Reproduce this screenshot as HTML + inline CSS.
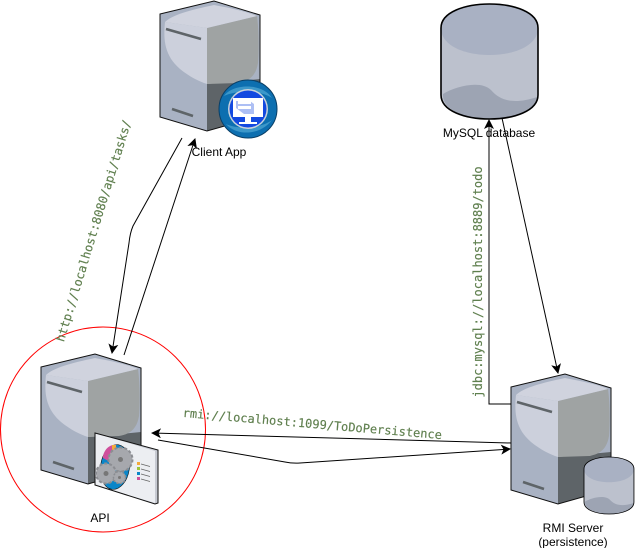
<!DOCTYPE html>
<html>
<head>
<meta charset="utf-8">
<style>
html,body{margin:0;padding:0;background:#fff;width:635px;height:548px;overflow:hidden}
svg{display:block}
.l{font-family:"Liberation Sans",Arial,sans-serif;font-size:12px;fill:#000;text-anchor:middle}
.m{font-family:"DejaVu Sans Mono",monospace;font-size:12px;fill:#5f7f4e;stroke:#5f7f4e;stroke-width:.15;text-anchor:middle}
</style>
</head>
<body>
<svg width="635" height="548" viewBox="0 0 635 548" xmlns="http://www.w3.org/2000/svg">
<defs>
<g id="srv">
<path d="M0,13 L54,0 L100,14 V115 L47,130 L0,116 Z" fill="#a9b2c3"/>
<path d="M47,83 L100,78 V115 L47,130 Z" fill="#5e6468"/>
<path d="M47,27 L97,15 C99,30 99,50 98,62 C96,74 90,80 78,82 L47,83 Z" fill="#9fa3a3"/>
<path d="M5,21 C3,40 5,55 20,68 C30,76 38,80 47,83 V27 Z" fill="#ccd0dc"/>
<path d="M5,21 C12,14 30,9 54,4 C70,7 85,10 97,15 L47,27 Z" fill="#d0d3de"/>
<path d="M0,13 L54,0 L100,14 V115 L47,130 L0,116 Z" fill="none" stroke="#111" stroke-width="1"/>
<path d="M6,28 L41,38" stroke="#5e6468" stroke-width="2.6" fill="none"/>
<path d="M12,108 L33,115" stroke="#5e6468" stroke-width="2.6" fill="none"/>
</g>
<g id="cyl">
<path d="M0,24 C0,-8 97,-8 97,24 V91 C97,123 0,123 0,91 Z" fill="#bcc1cd"/>
<path d="M0,24 C0,-8 97,-8 97,24 C97,60 0,60 0,24 Z" fill="#a9b1c3"/>
<path d="M2,90 C15,82 40,76 50,86 C60,98 75,100 96,93 C97,123 0,123 2,90 Z" fill="#9da4b3"/>
<path d="M0,24 C0,-8 97,-8 97,24 V91 C97,123 0,123 0,91 Z" fill="none" stroke="#000" stroke-width="1.6"/>
</g>
<marker id="a" markerWidth="12" markerHeight="12" refX="9" refY="5" orient="auto" markerUnits="userSpaceOnUse">
<path d="M0,0 L10,5 L0,10 L2.500,5 Z" fill="#000"/>
</marker>
</defs>

<!-- servers -->
<use href="#srv" x="160" y="1"/>
<use href="#srv" x="41" y="354"/>
<use href="#srv" x="511" y="374"/>

<!-- cylinders -->
<use href="#cyl" x="441" y="4"/>
<g transform="translate(584,457) scale(0.515,0.496)"><use href="#cyl"/></g>

<!-- globe -->
<circle cx="248" cy="109" r="29" fill="#0d6fb0" stroke="#0a3f66" stroke-width="1"/>
<path d="M224,96 C232,84 262,82 272,98 C260,90 236,90 224,96 Z" fill="#3c97c9"/>
<path d="M226,124 C236,136 260,136 272,120 C262,128 238,130 226,124 Z" fill="#3c97c9"/>
<circle cx="248" cy="109" r="20" fill="#c9d3dc"/>
<circle cx="248" cy="109" r="18.500" fill="#1349e0"/>
<path d="M233,98 H263 V117 H233 Z" fill="#fff"/>
<path d="M236,101 H250 L254,104 V114 H244 L236,108 Z" fill="#1349e0" opacity=".35"/>
<path d="M238,100 H251 V104 H238 Z M238,106 H251 V109 H238 Z" fill="#fff"/>
<path d="M245,117 H251 V122 H257 V124 H239 V122 H245 Z" fill="#fff"/>

<!-- panel -->
<path d="M95,433 L158,450 V503 L155,504 L95,485 Z" fill="#c7cad2"/>
<path d="M95,433 L155,451 V503 L95,485 Z" fill="#eceef2"/>
<path d="M95,433 L158,450 V503 L155,504 L95,485 Z" fill="none" stroke="#111" stroke-width="1"/>
<ellipse cx="115" cy="467" rx="14.500" ry="22.500" transform="rotate(8 115 467)" fill="#0a86c9" stroke="#111" stroke-width=".6"/>
<path d="M103,456 C105,447 112,444 116,445 L117,466 L103,458 Z" fill="#cf4f9c"/>
<path d="M112,445 H116 V452 H112 Z" fill="#f4a93b"/>
<circle cx="120.500" cy="459.500" r="12" fill="#a6a8ad" stroke="#8b8d92" stroke-width="2" stroke-dasharray="3 2"/>
<circle cx="120.500" cy="459.500" r="2.500" fill="#777"/>
<circle cx="106" cy="473.500" r="10" fill="#a6a8ad" stroke="#8b8d92" stroke-width="2" stroke-dasharray="3 2"/>
<circle cx="106" cy="473.500" r="2.500" fill="#777"/>
<circle cx="119.500" cy="477.500" r="6" fill="#a6a8ad" stroke="#8b8d92" stroke-width="1.500" stroke-dasharray="2 1.500"/>
<circle cx="119.500" cy="477.500" r="1.500" fill="#777"/>
<rect x="137" y="462" width="3" height="3" fill="#f4a93b"/>
<rect x="137" y="467" width="3" height="3" fill="#9dc43c"/>
<rect x="137" y="472" width="3" height="3" fill="#0a86c9"/>
<rect x="137" y="477" width="3" height="3" fill="#cf4f9c"/>
<path d="M141,464 L150,466.500 M141,469 L150,471.500 M141,474 L150,476.500 M141,479 L150,481.500" stroke="#666" stroke-width=".8"/>

<!-- red circle -->
<circle cx="103" cy="429.500" r="102.500" fill="none" stroke="#ff0000" stroke-width="1"/>

<!-- connectors -->
<g fill="none" stroke="#000" stroke-width="1">
<path d="M182,138 L133,226 Q130,233 129,243 L112,353" marker-end="url(#a)"/>
<path d="M124,355 L195,139" marker-end="url(#a)"/>
<path d="M511,404 H489 V120" marker-end="url(#a)"/>
<path d="M502,118 L558,373" marker-end="url(#a)"/>
<path d="M511,443 L152,433" marker-end="url(#a)"/>
<path d="M158,440 L285,462 Q292,463.500 300,463 L510,449" marker-end="url(#a)"/>
</g>

<!-- labels -->
<text class="l" x="219" y="156">Client App</text>
<text class="l" x="489" y="137">MySQL database</text>
<text class="l" x="100" y="522">API</text>
<text class="l" x="573" y="532">RMI Server</text>
<text class="l" x="573" y="546">(persistence)</text>

<text class="m" transform="translate(97.500,232) rotate(-73)">http://localhost:8080/api/tasks/</text>
<text class="m" transform="translate(312,428) rotate(4.900)">rmi://localhost:1099/ToDoPersistence</text>
<text class="m" transform="translate(482,282) rotate(-90)">jdbc:mysql://localhost:8889/todo</text>
</svg>
</body>
</html>
